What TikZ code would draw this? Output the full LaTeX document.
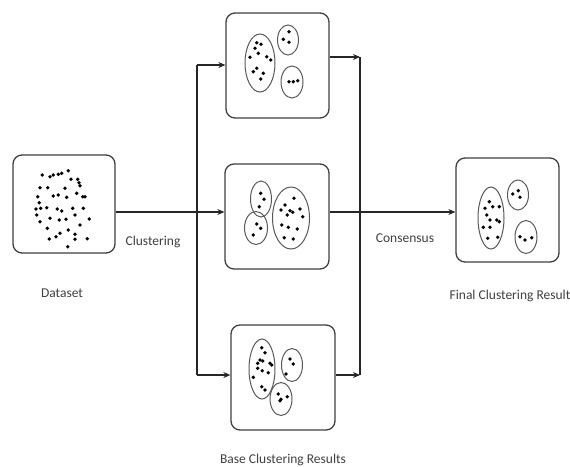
\documentclass[tikz,border=0pt]{standalone}
\usepackage{fontspec}
\setmainfont{Carlito}
\usetikzlibrary{arrows.meta,calc}
\begin{document}
\begin{tikzpicture}[x=1pt,y=-1pt,
  box/.style={draw=black!75,line width=1.3pt,rounded corners=9pt,fill=white,inner sep=0pt},
  clus/.style={draw=black!65,line width=1pt},
  conn/.style={draw=black!85,line width=1.1pt},
  arr/.style={conn,-{Stealth[length=7pt,width=6pt]}},
  lbl/.style={font=\fontsize{13.5}{15}\selectfont,text=black!75},
  dot/.style={fill=black}]
\useasboundingbox (0,0) rectangle (570,466);
\fill[white] (0,0) rectangle (570,466);
% boxes
\node[box,minimum width=102pt,minimum height=98pt] (data) at (64,204) {};
\node[box,minimum width=103pt,minimum height=105pt] (top) at (277.5,65.5) {};
\node[box,minimum width=104pt,minimum height=105pt] (mid) at (277,216.5) {};
\node[box,minimum width=104pt,minimum height=105pt] (bot) at (283,377.5) {};
\node[box,minimum width=103pt,minimum height=104pt] (fin) at (507.5,210) {};
% labels
\node[lbl] (ldata) at (62,293) {Dataset};
\node[lbl] (lclus) at (153,242) {Clustering};
\node[lbl] (lbase) at (283,460) {Base Clustering Results};
\node[lbl] (lcons) at (405,238) {Consensus};
\node[lbl] (lfin) at (510,296) {Final Clustering Result};
% connector coordinates
\coordinate (sT) at (197,65);
\coordinate (sM) at (197,212);
\coordinate (sB) at (197,375);
\coordinate (rT) at (360,57);
\coordinate (rM) at (360,212);
\coordinate (rB) at (360,375);
% connectors
\draw[arr] (data.east |- sM) -- (mid.west |- sM);
\draw[conn] (sT) -- (sB);
\draw[arr] (sT) -- (top.west |- sT);
\draw[arr] (sB) -- (bot.west |- sB);
\draw[conn] (rT) -- (rB);
\draw[arr] (top.east |- rT) -- (rT);
\draw[arr] (bot.east |- rB) -- (rB);
\draw[arr] (mid.east |- rM) -- (fin.west |- rM);
% dataset dots
\foreach \p in {(42.3,175),(50,176.7),(53.3,175),(58.3,174.3),(61.7,173.3),(68.3,170.7),(71,179.3),(77.7,179.3),(79,182.7),(40,187.7),(47.7,187.7),(65,188.3),(37.7,196.7),(53.3,196),(58.3,195),(66.7,197.3),(76.7,193.3),(82.7,196.7),(85,196.7),(39.3,202.7),(36,209),(40.7,208.3),(46.7,207.7),(57.3,209),(61.7,211),(72.7,208.3),(83.3,208.3),(40,221.7),(50,218.3),(59.3,220),(66,219.3),(75,215),(89.3,219),(47.3,228.3),(80,225),(60,233.3),(56,236.7),(68.3,230),(75,234.3),(49.3,239),(75,239.3),(87.3,238.7),(67.7,246.7),(36.7,215),(80,185.7)}
  \fill[dot] \p circle[radius=1.9pt];
% top box clusters
\draw[clus] (260,63) ellipse[x radius=15pt,y radius=29pt];
\draw[clus] (288,40) ellipse[x radius=10.5pt,y radius=15pt];
\draw[clus] (292,82) ellipse[x radius=11pt,y radius=16pt];
\foreach \p in {(256.7,42.7),(261,44.3),(255,48.3),(258.3,53.3),(250,57.3),(266.7,56.7),(270.7,60),(256.7,68.3),(253.3,71.7),(263.3,73.3),(260.7,79),(289,31.7),(283.3,39.3),(289,42.3),(289,81.7),(293.3,81.7),(297.7,80.7)}
  \fill[dot] \p circle[radius=1.9pt];
% middle box clusters
\draw[clus] (261,199) ellipse[x radius=10.5pt,y radius=18pt];
\draw[clus] (256,228) ellipse[x radius=11.5pt,y radius=16.5pt];
\draw[clus] (291,218) ellipse[x radius=18.5pt,y radius=31pt];
\foreach \p in {(260.7,193.3),(264,199.3),(259.3,206.7),(256.7,224),(260.7,228.3),(253.3,235),(294,198.3),(285,205),(281,210),(290,210.7),(292.7,212.3),(287.3,215),(300,209),(302.7,216.7),(281.7,225),(288.3,227.3),(297.3,229),(284.3,237.7),(293.3,239)}
  \fill[dot] \p circle[radius=1.9pt];
% bottom box clusters
\draw[clus] (262,369) ellipse[x radius=13pt,y radius=30pt];
\draw[clus] (292,365) ellipse[x radius=10.5pt,y radius=16.5pt];
\draw[clus] (281,399) ellipse[x radius=11pt,y radius=16.5pt];
\foreach \p in {(261.7,347.7),(265,352.7),(260,360),(262.7,361),(257.7,363.3),(270,363.3),(271.7,365),(257.7,368.3),(262.3,370.7),(268.3,372.7),(253.3,377.3),(261.7,386.7),(265,390),(290,359),(293.3,364),(286,374),(278.3,394),(281,399.3),(287.3,396.7),(280,400.7)}
  \fill[dot] \p circle[radius=1.9pt];
% final clusters
\draw[clus] (491,218) ellipse[x radius=13pt,y radius=31pt];
\draw[clus] (518,195) ellipse[x radius=10.5pt,y radius=15pt];
\draw[clus] (526,237) ellipse[x radius=11pt,y radius=16.5pt];
\foreach \p in {(489.3,201.7),(492.7,206.7),(485,208.3),(499.3,206.7),(486.7,215),(490,220),(496.7,220),(499.3,221.7),(483.3,227.3),(490,227.3),(497.7,237.3),(487.7,238.3),(512.7,194),(518.3,190.7),(520,197.3),(520,236.7),(525,240),(531.7,237.7)}
  \fill[dot] \p circle[radius=1.9pt];
\end{tikzpicture}
\end{document}
